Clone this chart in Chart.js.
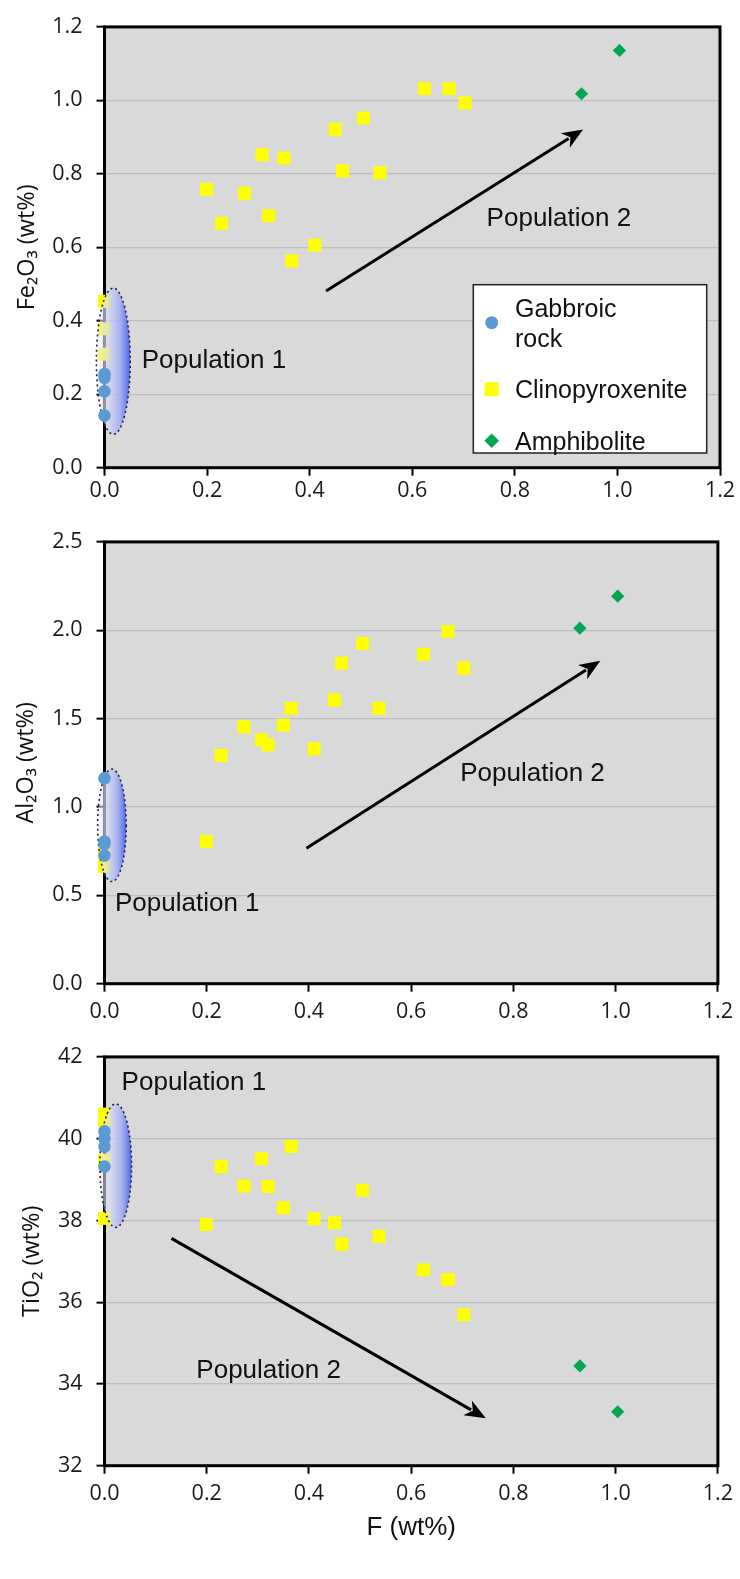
<!DOCTYPE html>
<html>
<head>
<meta charset="utf-8">
<script src="https://cdn.jsdelivr.net/npm/chart.js@4.4.1/dist/chart.umd.min.js"></script>
<style>
  html, body { margin: 0; padding: 0; background: #ffffff; }
  body { width: 740px; height: 1579px; position: relative; overflow: hidden; }
  canvas { position: absolute; left: 0; display: block; }
</style>
</head>
<body>
<canvas id="c1" width="740" height="515" style="top:0px"></canvas>
<canvas id="c2" width="740" height="515" style="top:515px"></canvas>
<canvas id="c3" width="740" height="549" style="top:1030px"></canvas>
<script>
// ---------------- DATA ----------------
const seriesNames = ['Gabbroic rock', 'Clinopyroxenite', 'Amphibolite'];

const xTicks = [0, 0.2, 0.4, 0.6, 0.8, 1.0, 1.2];
const fe2o3Ticks = [0, 0.2, 0.4, 0.6, 0.8, 1.0, 1.2];
const al2o3Ticks = [0, 0.5, 1.0, 1.5, 2.0, 2.5];
const tio2Ticks = [32, 34, 36, 38, 40, 42];

// Gabbroic rock (all at F = 0)
const gabbroF = [0, 0, 0, 0];
const gabbroFe2O3 = [0.255, 0.245, 0.208, 0.142];
const gabbroAl2O3 = [1.163, 0.805, 0.790, 0.725];
const gabbroTiO2 = [40.18, 40.00, 39.81, 39.32];

// Clinopyroxenite with measurable F
const cpxF = [0.199, 0.228, 0.273, 0.307, 0.320, 0.350, 0.365, 0.410, 0.450, 0.464, 0.505, 0.537, 0.624, 0.672, 0.703];
const cpxFe2O3 = [0.758, 0.665, 0.747, 0.852, 0.686, 0.843, 0.563, 0.606, 0.921, 0.808, 0.952, 0.803, 1.032, 1.032, 0.993];
const cpxAl2O3 = [0.806, 1.292, 1.454, 1.380, 1.351, 1.463, 1.558, 1.329, 1.606, 1.814, 1.925, 1.559, 1.864, 1.993, 1.786];
const cpxTiO2 = [37.90, 39.32, 38.84, 39.51, 38.83, 38.31, 39.81, 38.04, 37.94, 37.42, 38.74, 37.61, 36.79, 36.55, 35.69];
// Clinopyroxenite plotted at F = 0
const cpxZeroFe2O3 = [0.453, 0.378, 0.309];
const cpxZeroAl2O3 = [0.770, 0.700, 0.665];
const cpxZeroTiO2 = [40.60, 40.45, 39.47, 38.05];

// Amphibolite
const amphF = [0.930, 1.004];
const amphFe2O3 = [1.018, 1.136];
const amphAl2O3 = [2.012, 2.193];
const amphTiO2 = [34.44, 33.32];

// ---------------- HELPERS ----------------
function pts(xs, ys) { return ys.map((y, i) => ({ x: xs[i], y: y })); }
function zeroPts(ys) { return ys.map(y => ({ x: 0, y: y })); }

const STYLE = {
  gabbro: { color: '#5B9BD5', pointStyle: 'circle', radius: 6.3 },
  cpx: { color: '#FFFF00', pointStyle: 'rect', radius: 9.2 },
  amph: { color: '#00A651', pointStyle: 'rectRot', radius: 6.6 }
};

function makeDatasets(gY, cY, cZeroY, aY) {
  const mk = (label, data, st) => ({
    label: label, data: data,
    pointStyle: st.pointStyle, pointRadius: st.radius,
    backgroundColor: st.color, borderColor: st.color, borderWidth: 0,
    pointHoverRadius: st.radius, clip: false, showLine: false
  });
  return [
    mk(seriesNames[0], pts(gabbroF, gY), STYLE.gabbro),
    mk(seriesNames[1], zeroPts(cZeroY).concat(pts(cpxF, cY)), STYLE.cpx),
    mk(seriesNames[2], pts(amphF, aY), STYLE.amph)
  ];
}

// ---------------- DECORATION PLUGIN ----------------
const decoPlugin = {
  id: 'deco',
  beforeDraw(chart) {
    const { ctx, chartArea: a } = chart;
    ctx.save();
    ctx.fillStyle = '#D9D9D9';
    ctx.fillRect(a.left, a.top, a.right - a.left, a.bottom - a.top);
    ctx.restore();
  },
  beforeDatasetsDraw(chart) {
    const { ctx, chartArea: a } = chart;
    ctx.save();
    ctx.strokeStyle = '#000';
    ctx.lineWidth = 3;
    ctx.strokeRect(a.left, a.top, a.right - a.left, a.bottom - a.top);
    ctx.restore();
  },
  beforeDatasetDraw(chart, args, o) {
    if (args.index !== 0 || !o.ellipse) return;
    const { ctx } = chart;
    const xs = chart.scales.x, ys = chart.scales.y, e = o.ellipse;
    const cx = xs.getPixelForValue(e.cx), cy = ys.getPixelForValue(e.cy);
    const rx = Math.abs(xs.getPixelForValue(e.cx + e.rx) - cx);
    const ry = Math.abs(ys.getPixelForValue(e.cy + e.ry) - cy);
    ctx.save();
    const g = ctx.createLinearGradient(cx - rx, 0, cx + rx, 0);
    g.addColorStop(0, 'rgba(240,240,248,0.45)');
    g.addColorStop(0.35, 'rgba(214,216,244,0.75)');
    g.addColorStop(0.7, 'rgba(160,172,242,0.88)');
    g.addColorStop(1, 'rgba(64,96,240,0.95)');
    ctx.beginPath();
    ctx.ellipse(cx, cy, rx, ry, 0, 0, Math.PI * 2);
    ctx.fillStyle = g;
    ctx.fill();
    ctx.setLineDash([2, 3]);
    ctx.lineWidth = 1.6;
    ctx.strokeStyle = '#1b2540';
    ctx.stroke();
    ctx.restore();
  },
  afterDatasetsDraw(chart, args, o) {
    const { ctx, chartArea: a } = chart;
    const xs = chart.scales.x, ys = chart.scales.y;
    // arrow
    if (o.arrow) {
      const x1 = xs.getPixelForValue(o.arrow.x1), y1 = ys.getPixelForValue(o.arrow.y1);
      const x2 = xs.getPixelForValue(o.arrow.x2), y2 = ys.getPixelForValue(o.arrow.y2);
      const ang = Math.atan2(y2 - y1, x2 - x1);
      const hl = 21, hw = 8.5;
      const bx = x2 - hl * Math.cos(ang), by = y2 - hl * Math.sin(ang);
      ctx.save();
      ctx.strokeStyle = '#000'; ctx.fillStyle = '#000';
      ctx.lineWidth = 3; ctx.lineCap = 'butt';
      ctx.beginPath(); ctx.moveTo(x1, y1);
      ctx.lineTo(x2 - (hl - 4) * Math.cos(ang), y2 - (hl - 4) * Math.sin(ang));
      ctx.stroke();
      ctx.beginPath();
      ctx.moveTo(x2, y2);
      ctx.lineTo(bx + hw * Math.sin(ang), by - hw * Math.cos(ang));
      ctx.lineTo(x2 - (hl - 6) * Math.cos(ang), y2 - (hl - 6) * Math.sin(ang));
      ctx.lineTo(bx - hw * Math.sin(ang), by + hw * Math.cos(ang));
      ctx.closePath(); ctx.fill();
      ctx.restore();
    }
    // labels
    if (o.labels) {
      ctx.save();
      ctx.font = '26px "Liberation Sans", Arial, sans-serif';
      ctx.fillStyle = '#111';
      ctx.textAlign = 'left'; ctx.textBaseline = 'middle';
      o.labels.forEach(l => ctx.fillText(l.text, xs.getPixelForValue(l.x), ys.getPixelForValue(l.y)));
      ctx.restore();
    }
    // legend
    if (o.legend) {
      const L = o.legend;
      const bw = L.width, bh = L.height;
      const bx = a.right - L.right - bw, by = a.bottom - L.bottom - bh;
      ctx.save();
      ctx.fillStyle = '#fff';
      ctx.fillRect(bx, by, bw, bh);
      ctx.strokeStyle = '#222'; ctx.lineWidth = 1.5;
      ctx.strokeRect(bx, by, bw, bh);
      ctx.font = '25px "Liberation Sans", Arial, sans-serif';
      ctx.fillStyle = '#111';
      ctx.textAlign = 'left'; ctx.textBaseline = 'alphabetic';
      const dsets = chart.data.datasets;
      let yBase = by + L.firstBaseline;
      dsets.forEach((ds) => {
        const words = ds.label.split(' ');
        const lines = []; let cur = '';
        words.forEach(w => {
          const t = cur ? cur + ' ' + w : w;
          if (cur && ctx.measureText(t).width > L.maxText) { lines.push(cur); cur = w; } else cur = t;
        });
        lines.push(cur);
        const blockTop = yBase;
        lines.forEach((ln, k) => ctx.fillText(ln, bx + L.textX, yBase + k * L.lineH));
        const markerY = blockTop + (lines.length - 1) * L.lineH / 2 - 9;
        const mx = bx + L.markerX;
        ctx.fillStyle = ds.backgroundColor;
        ctx.beginPath();
        if (ds.pointStyle === 'circle') { ctx.arc(mx, markerY, 6.5, 0, Math.PI * 2); }
        else if (ds.pointStyle === 'rect') { ctx.rect(mx - 7, markerY - 7, 14, 14); }
        else { ctx.moveTo(mx, markerY - 7.3); ctx.lineTo(mx + 7.3, markerY); ctx.lineTo(mx, markerY + 7.3); ctx.lineTo(mx - 7.3, markerY); ctx.closePath(); }
        ctx.fill();
        ctx.fillStyle = '#111';
        yBase += (lines.length - 1) * L.lineH + L.rowGap;
      });
      ctx.restore();
    }
  }
};

// ---------------- CHART FACTORY ----------------
const TICK_FONT = { family: "'Open Sans', 'DejaVu Sans', sans-serif", size: 21.5 };
const TITLE_FONT = { family: "'Open Sans', 'DejaVu Sans', sans-serif", size: 23.5 };

function buildChart(id, cfg) {
  return new Chart(document.getElementById(id), {
    type: 'scatter',
    data: { datasets: cfg.datasets },
    options: {
      responsive: false,
      animation: false,
      devicePixelRatio: 1,
      layout: { padding: { top: cfg.top, right: 20, left: 0, bottom: 0 } },
      plugins: {
        legend: { display: false },
        tooltip: { enabled: false },
        deco: cfg.deco
      },
      scales: {
        x: {
          type: 'linear', min: 0, max: 1.2,
          afterBuildTicks: s => { s.ticks = xTicks.map(v => ({ value: v })); },
          afterFit: s => { s.height = cfg.xHeight; },
          ticks: { font: TICK_FONT, color: '#1a1a1a', padding: cfg.xPad, maxRotation: 0, callback: v => Number(v).toFixed(1) },
          grid: { display: true, drawOnChartArea: false, drawTicks: true, tickLength: 8, tickColor: '#000', tickWidth: 2 },
          border: { display: false },
          title: cfg.xTitle ? {
            display: true, text: cfg.xTitle, color: '#111',
            font: { family: "'Liberation Sans', Arial, sans-serif", size: 26 },
            padding: { top: 0, bottom: 36 }
          } : { display: false }
        },
        y: {
          type: 'linear', min: cfg.yTicks[0], max: cfg.yTicks[cfg.yTicks.length - 1],
          afterBuildTicks: s => { s.ticks = cfg.yTicks.map(v => ({ value: v })); },
          afterFit: s => { s.width = 104.5; },
          ticks: { font: TICK_FONT, color: '#1a1a1a', padding: 14, callback: cfg.yFmt },
          grid: { color: '#BDBDBD', lineWidth: 1.3, drawTicks: true, tickLength: 8, tickColor: '#000', tickWidth: 2 },
          border: { display: false },
          title: {
            display: true, text: cfg.yTitle, color: '#111', font: TITLE_FONT,
            padding: { top: cfg.yTitlePad, bottom: 0 }
          }
        }
      }
    },
    plugins: [decoPlugin]
  });
}

buildChart('c1', {
  datasets: makeDatasets(gabbroFe2O3, cpxFe2O3, cpxZeroFe2O3, amphFe2O3),
  top: 15, xHeight: 47.3, xPad: 2,
  yTicks: fe2o3Ticks, yFmt: v => Number(v).toFixed(1),
  yTitle: 'Fe\u2082O\u2083 (wt%)', yTitlePad: 13,
  deco: {
    ellipse: { cx: 0.0172, rx: 0.0330, cy: 0.290, ry: 0.199 },
    arrow: { x1: 0.432, y1: 0.481, x2: 0.933, y2: 0.921 },
    labels: [{ text: 'Population 1', x: 0.0725, y: 0.290 }, { text: 'Population 2', x: 0.745, y: 0.678 }],
    legend: { width: 233.4, height: 168.3, right: 13.3, bottom: 14.7, markerX: 18.4, textX: 41.7,
              firstBaseline: 32, lineH: 30, rowGap: 51.5, maxText: 150 }
  }
});

buildChart('c2', {
  datasets: makeDatasets(gabbroAl2O3, cpxAl2O3, cpxZeroAl2O3, amphAl2O3),
  top: 16.7, xHeight: 46.3, xPad: 7,
  yTicks: al2o3Ticks, yFmt: v => Number(v).toFixed(1),
  yTitle: 'Al\u2082O\u2083 (wt%)', yTitlePad: 12.5,
  deco: {
    ellipse: { cx: 0.0146, rx: 0.028, cy: 0.896, ry: 0.318 },
    arrow: { x1: 0.395, y1: 0.766, x2: 0.970, y2: 1.827 },
    labels: [{ text: 'Population 1', x: 0.0205, y: 0.452 }, { text: 'Population 2', x: 0.696, y: 1.185 }]
  }
});

buildChart('c3', {
  datasets: makeDatasets(gabbroTiO2, cpxTiO2, cpxZeroTiO2, amphTiO2),
  top: 13.3, xHeight: 113.3, xPad: 7,
  yTicks: tio2Ticks, yFmt: v => String(Math.round(v)),
  yTitle: 'TiO\u2082 (wt%)', yTitlePad: 18,
  xTitle: 'F (wt%)',
  deco: {
    ellipse: { cx: 0.022, rx: 0.031, cy: 39.34, ry: 1.51 },
    arrow: { x1: 0.131, y1: 37.56, x2: 0.746, y2: 33.16 },
    labels: [{ text: 'Population 1', x: 0.0335, y: 41.37 }, { text: 'Population 2', x: 0.1797, y: 34.31 }]
  }
});
</script>
</body>
</html>
